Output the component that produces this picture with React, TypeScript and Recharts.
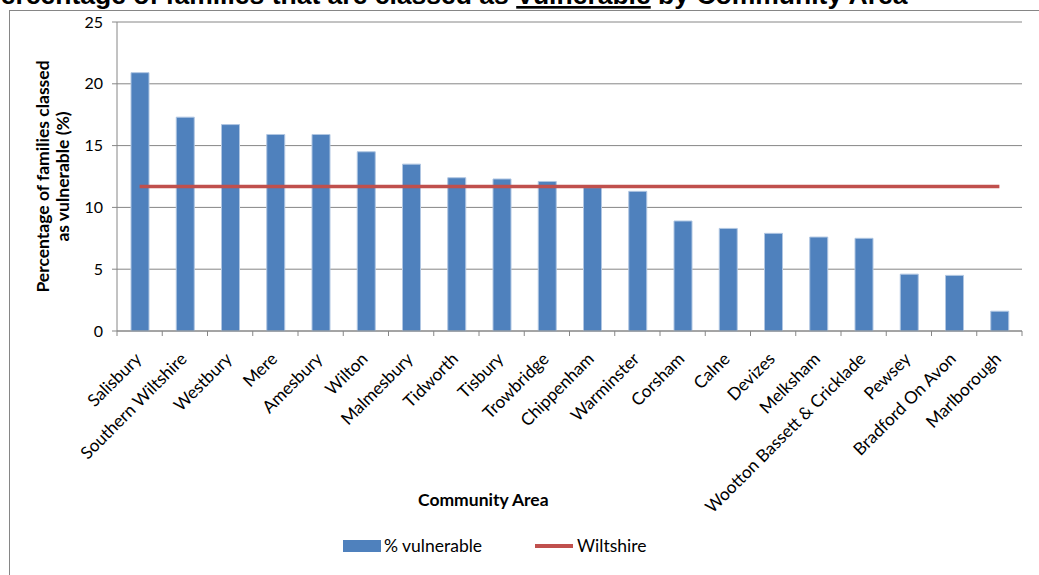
import { ComposedChart, Bar, Line, XAxis, YAxis, CartesianGrid } from "recharts";

const areas = [
  "Salisbury",
  "Southern Wiltshire",
  "Westbury",
  "Mere",
  "Amesbury",
  "Wilton",
  "Malmesbury",
  "Tidworth",
  "Tisbury",
  "Trowbridge",
  "Chippenham",
  "Warminster",
  "Corsham",
  "Calne",
  "Devizes",
  "Melksham",
  "Wootton Bassett & Cricklade",
  "Pewsey",
  "Bradford On Avon",
  "Marlborough",
];

const vulnerable = [
  20.9, 17.3, 16.7, 15.9, 15.9, 14.5, 13.5, 12.4, 12.3, 12.1,
  11.6, 11.3, 8.9, 8.3, 7.9, 7.6, 7.5, 4.6, 4.5, 1.6,
];

const wiltshireAverage = 11.7;
const yTicks = [0, 5, 10, 15, 20, 25];

const data = areas.map((area, i) => ({
  area,
  vulnerable: vulnerable[i],
  wiltshire: wiltshireAverage,
}));

const W = 1039;
const H = 575;
const LEFT = 117;
const RIGHT = 17;
const TOP = 22;
const XAXIS_H = 244;
const BAND = (W - LEFT - RIGHT) / areas.length;
const FONT = "Lato, 'Open Sans', sans-serif";

function AreaTick(props: any) {
  const { x, y, payload, index } = props;
  const tx = x + 3;
  const ty = y + 29;
  return (
    <g>
      <line x1={x - BAND / 2} y1={y} x2={x - BAND / 2} y2={y + 5} stroke="#868686" />
      {index === areas.length - 1 && (
        <line x1={x + BAND / 2} y1={y} x2={x + BAND / 2} y2={y + 5} stroke="#868686" />
      )}
      <text
        x={tx}
        y={ty}
        textAnchor="end"
        transform={`rotate(-45, ${tx}, ${ty})`}
        fontSize={17.2}
        fontFamily={FONT}
        fill="#000"
      >
        {payload.value}
      </text>
    </g>
  );
}

function YLabel(props: any) {
  const vb = props.viewBox || { x: 0, y: TOP, height: 309 };
  const cy = vb.y + vb.height / 2;
  return (
    <g fontFamily={FONT} fontWeight="bold" fontSize={17.5} fill="#000" textAnchor="middle">
      <text x={43} y={cy} transform={`rotate(-90, 43, ${cy})`} dy={6}>
        Percentage of families classed
      </text>
      <text x={63} y={cy} transform={`rotate(-90, 63, ${cy})`} dy={6}>
        as vulnerable  (%)
      </text>
    </g>
  );
}

export default function App() {
  return (
    <div
      style={{
        position: "fixed",
        left: 0,
        top: 0,
        width: W,
        height: H,
        overflow: "hidden",
        background: "#fff",
      }}
    >
      <div
        style={{
          position: "absolute",
          left: 9,
          top: 10,
          width: 1100,
          height: 700,
          border: "1px solid #868686",
        }}
      />
      <svg
        width={W}
        height={12}
        style={{ position: "absolute", left: 0, top: 0 }}
      >
        <text
          x={-17}
          y={4}
          fontFamily="'Liberation Sans', Arial, sans-serif"
          fontWeight="bold"
          fontSize={26.5}
          fill="#000"
        >
          Percentage of families that are classed as{" "}
          <tspan textDecoration="underline">Vulnerable</tspan> by Community Area
        </text>
      </svg>
      <div style={{ position: "absolute", left: 0, top: 0 }}>
        <ComposedChart
          width={W}
          height={H}
          data={data}
          margin={{ top: TOP, right: RIGHT, bottom: 0, left: 0 }}
        >
          <CartesianGrid vertical={false} stroke="#868686" />
          <XAxis
            dataKey="area"
            interval={0}
            height={XAXIS_H}
            tickLine={false}
            tickSize={0}
            tickMargin={0}
            axisLine={{ stroke: "#868686" }}
            tick={<AreaTick />}
          />
          <YAxis
            width={LEFT}
            domain={[0, 25]}
            ticks={yTicks}
            tickSize={5}
            tickMargin={9}
            axisLine={{ stroke: "#868686" }}
            tickLine={{ stroke: "#868686" }}
            tick={{ fill: "#000", fontSize: 16, fontFamily: FONT }}
            label={<YLabel />}
          />
          <Bar
            dataKey="vulnerable"
            barSize={18}
            fill="#4F81BD"
            stroke="#B0C6E2"
            strokeWidth={1}
            isAnimationActive={false}
          />
          <Line
            dataKey="wiltshire"
            type="linear"
            stroke="#C0504D"
            strokeWidth={3.5}
            dot={false}
            isAnimationActive={false}
          />
        </ComposedChart>
      </div>
      <div
        style={{
          position: "absolute",
          left: 418,
          top: 489,
          fontFamily: FONT,
          fontWeight: "bold",
          fontSize: 17.5,
          color: "#000",
        }}
      >
        Community Area
      </div>
      <div style={{ position: "absolute", left: 343, top: 540, width: 38, height: 12, background: "#4F81BD" }} />
      <div
        style={{ position: "absolute", left: 384, top: 535, fontFamily: FONT, fontSize: 17.5, color: "#000" }}
      >
        % vulnerable
      </div>
      <div style={{ position: "absolute", left: 535, top: 544, width: 38, height: 4, background: "#C0504D" }} />
      <div
        style={{ position: "absolute", left: 577, top: 535, fontFamily: FONT, fontSize: 17.5, color: "#000" }}
      >
        Wiltshire
      </div>
    </div>
  );
}
